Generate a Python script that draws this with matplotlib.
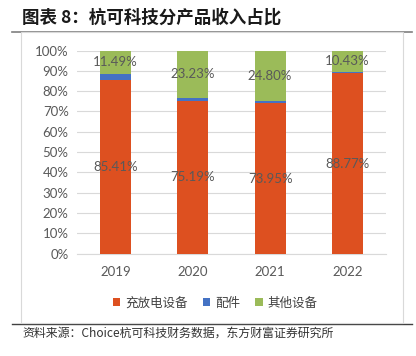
import matplotlib
matplotlib.use("Agg")
from matplotlib import pyplot as plt
from matplotlib.lines import Line2D
from matplotlib.patches import Rectangle

plt.rcParams["font.family"] = ["Noto Sans CJK SC", "DejaVu Sans"]

years = ["2019", "2020", "2021", "2022"]
charge = [85.41, 75.19, 73.95, 88.77]
other = [11.49, 23.23, 24.80, 10.43]
parts = [round(100 - c - o, 2) for c, o in zip(charge, other)]
series_names = ["充放电设备", "配件", "其他设备"]
colors = ["#DD5020", "#4472C4", "#9BBB59"]

W, H = 416, 356
fig = plt.figure(figsize=(W / 100, H / 100), dpi=100)

def fx(px):
    return px / W

def fy(py):
    return 1 - py / H

# frame lines and white chart box (behind the axes)
fig.add_artist(Line2D([fx(12), fx(412)], [fy(31.5), fy(31.5)], color="#7F7F7F", lw=1.2, zorder=-3))
fig.add_artist(Line2D([fx(12), fx(412)], [fy(323.5), fy(323.5)], color="#404040", lw=1.0, zorder=-3))
fig.add_artist(Rectangle((fx(21), fy(323)), fx(403) - fx(21), fy(32) - fy(323),
                         facecolor="white", edgecolor="#D9D9D9", lw=0.8, zorder=-2))

fig.text(fx(22), fy(18), "图表 8：杭可科技分产品收入占比", fontsize=12.6, fontweight="bold",
         color="#1A1A1A", va="center", ha="left")
fig.text(fx(22), fy(333), "资料来源：Choice杭可科技财务数据，东方财富证券研究所", fontsize=8.6,
         color="#333333", va="center", ha="left")

ax = fig.add_axes([fx(77), fy(253.7), fx(386) - fx(77), fy(50.5) - fy(253.7)])
ax.set_facecolor("none")
x = list(range(len(years)))
w = 0.40
b1 = ax.bar(x, charge, w, color=colors[0], label=series_names[0], zorder=3)
b2 = ax.bar(x, parts, w, bottom=charge, color=colors[1], label=series_names[1], zorder=3)
bottom3 = [c + p for c, p in zip(charge, parts)]
b3 = ax.bar(x, other, w, bottom=bottom3, color=colors[2], label=series_names[2], zorder=3)

lab_kw = dict(ha="center", va="center", fontsize=9.5, color="#595959", family="Lato", zorder=4)
for i in x:
    ax.text(i, charge[i] / 2, f"{charge[i]:.2f}%", **lab_kw)
    ax.text(i, bottom3[i] + other[i] / 2, f"{other[i]:.2f}%", **lab_kw)

ax.set_xlim(-0.5, 3.5)
ax.set_ylim(0, 100)
ax.set_yticks(range(0, 101, 10))
ax.set_yticklabels([f"{v}%" for v in range(0, 101, 10)], family="Lato", fontsize=9.5, color="#595959")
ax.set_xticks(x)
ax.set_xticklabels(years, family="Lato", fontsize=9.5, color="#595959")
ax.tick_params(length=0, pad=6)
ax.tick_params(axis="x", pad=9)
ax.grid(axis="y", color="#D9D9D9", lw=0.8, zorder=0)
for s in ["top", "right", "left"]:
    ax.spines[s].set_visible(False)
ax.spines["bottom"].set_color("#D9D9D9")
ax.spines["bottom"].set_linewidth(0.8)

leg = fig.legend(handles=[b1, b2, b3], labels=series_names, loc="center",
                 bbox_to_anchor=(fx(215), fy(303)), ncol=3, frameon=False,
                 fontsize=9, handlelength=0.6, handleheight=0.6, handletextpad=0.4,
                 columnspacing=1.2)
for t in leg.get_texts():
    t.set_color("#404040")

fig.savefig("out.png", dpi=100)
